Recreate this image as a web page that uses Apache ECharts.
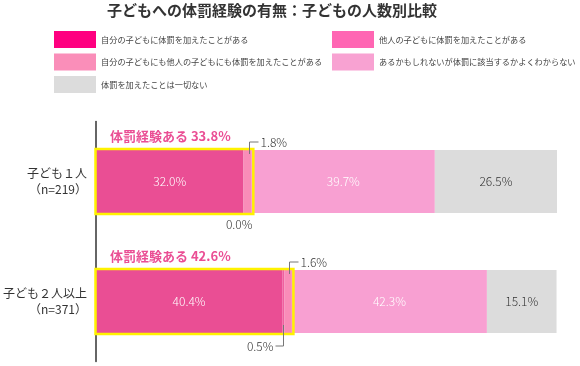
<!DOCTYPE html>
<html><head><meta charset="utf-8">
<script src="https://cdn.jsdelivr.net/npm/echarts@6/dist/echarts.min.js"></script>
<style>html,body{margin:0;padding:0;background:#fff}#c{width:580px;height:366px}</style>
</head><body><div id="c"></div>
<script>
const titleText = '子どもへの体罰経験の有無：子どもの人数別比較';
const categories = ['子ども１人', '子ども２人以上'];
const sampleSizes = ['（n=219）', '（n=371）'];
const seriesNames = [
  '自分の子どもに体罰を加えたことがある',
  '他人の子どもに体罰を加えたことがある',
  '自分の子どもにも他人の子どもにも体罰を加えたことがある',
  'あるかもしれないが体罰に該当するかよくわからない',
  '体罰を加えたことは一切ない'
];
const ownChild = [32.0, 40.4];
const otherChild = [0.0, 0.5];
const bothChildren = [1.8, 1.6];
const unsure = [39.7, 42.3];
const never = [26.5, 15.1];
const experienceTotal = [33.8, 42.6];
const experienceLabel = '体罰経験ある';

const barColors = ['#EA4E94', '#F0609F', '#F98CB8', '#F8A0D2', '#DCDCDC'];
const legendColors = ['#FF0080', '#FF66B3', '#FA8EB9', '#F8A2D2', '#DCDCDC'];
const FONT = '"Noto Sans CJK JP", "Noto Sans", sans-serif';

const values = [ownChild, otherChild, bothChildren, unsure, never];

// annotation placements for the thin segments (series index, category index, placement)
const annPlacement = [
  [1, 0, 'below'], [2, 0, 'up'],
  [1, 1, 'downleft'], [2, 1, 'up']
];
const annData = annPlacement.map(([s, c, p]) => {
  let start = 0;
  for (let k = 0; k < s; k++) start += values[k][c];
  return [c, start, values[s][c], p];
});
const boxData = categories.map((c, i) => [i, ownChild[i] + otherChild[i] + bothChildren[i], experienceTotal[i]]);

const BW = 63;
const barSeries = seriesNames.map((n, si) => ({
  name: n, type: 'bar', stack: 'all', barWidth: BW,
  data: values[si],
  itemStyle: { color: barColors[si] },
  label: {
    show: si === 0 || si >= 3,
    position: 'inside',
    color: si === 4 ? '#333' : '#fff',
    fontSize: 12, fontFamily: FONT, fontWeight: 300,
    formatter: p => p.value.toFixed(1) + '%'
  },
  emphasis: { disabled: true }
}));

const legendCommon = { orient: 'vertical', itemWidth: 42, itemHeight: 17, itemGap: 5.5, padding: 0,
  selectedMode: false, textStyle: { fontSize: 8.2, color: '#444', fontFamily: FONT } };

const chart = echarts.init(document.getElementById('c'));
chart.setOption({
  animation: false,
  title: { text: titleText, left: 107, top: 3, padding: 0,
    textStyle: { fontSize: 15, fontWeight: 'bold', color: '#333', fontFamily: FONT } },
  legend: [
    Object.assign({ left: 54, top: 31,
      data: [0, 2, 4].map(i => ({ name: seriesNames[i], icon: 'rect', itemStyle: { color: legendColors[i] } })) }, legendCommon),
    Object.assign({ left: 332, top: 31,
      data: [1, 3].map(i => ({ name: seriesNames[i], icon: 'rect', itemStyle: { color: legendColors[i] } })) }, legendCommon)
  ],
  grid: { left: 96, right: 23, top: 121.5, height: 240, containLabel: false, outerBoundsMode: 'none' },
  xAxis: { type: 'value', min: 0, max: 100, show: false },
  yAxis: {
    type: 'category', inverse: true, data: categories,
    axisLine: { show: true, lineStyle: { color: '#333', width: 1.5 } },
    axisTick: { show: false },
    axisLabel: {
      margin: 9, align: 'right',
      formatter: (v, i) => '{a|' + v + '}\n{b|' + sampleSizes[i] + '}',
      rich: {
        a: { fontSize: 12, color: '#333', fontFamily: FONT, lineHeight: 16, align: 'right' },
        b: { fontSize: 12, color: '#333', fontFamily: FONT, lineHeight: 16, align: 'right' }
      }
    }
  },
  series: barSeries.concat([
    {
      type: 'custom', name: 'box', coordinateSystem: 'cartesian2d', z: 10,
      encode: { x: 1, y: 0 }, silent: true,
      data: boxData,
      renderItem: (params, api) => {
        const cat = api.value(0);
        const s = api.coord([0, cat]);
        const e = api.coord([api.value(1), cat]);
        const h = BW;
        return { type: 'group', children: [
          { type: 'rect', shape: { x: s[0] - 0.5, y: s[1] - h / 2 - 1, width: e[0] - s[0] + 2, height: h + 2 },
            style: { fill: null, stroke: '#FFF200', lineWidth: 2.5 } },
          { type: 'text', x: s[0] + 14, y: s[1] - h / 2 - 14,
            style: { text: experienceLabel + ' ' + api.value(2).toFixed(1) + '%', fill: '#EA4E94',
              font: 'bold 13px ' + FONT, textAlign: 'left', textVerticalAlign: 'middle' } }
        ] };
      }
    },
    {
      type: 'custom', name: 'ann', coordinateSystem: 'cartesian2d', z: 11,
      encode: { x: 1, y: 0 }, silent: true,
      data: annData,
      renderItem: (params, api) => {
        const cat = api.value(0);
        const st = api.value(1), val = api.value(2);
        const pl = annData[params.dataIndex][3];
        const c = api.coord([st + val / 2, cat]);
        const x = Math.round(c[0]) + 0.5;
        const yTop = c[1] - BW / 2, yBot = c[1] + BW / 2;
        const txt = val.toFixed(1) + '%';
        const font = '300 12px ' + FONT;
        const lineStyle = { stroke: '#777', lineWidth: 1, fill: null };
        if (pl === 'up') {
          return { type: 'group', children: [
            { type: 'polyline', shape: { points: [[x + 1, yTop + 4], [x + 1, yTop - 8], [x + 10, yTop - 8]] }, style: lineStyle },
            { type: 'text', x: x + 12, y: yTop - 8, style: { text: txt, font, fill: '#333', textAlign: 'left', textVerticalAlign: 'middle' } }
          ] };
        } else if (pl === 'below') {
          return { type: 'text', x: x + 8, y: yBot + 11, style: { text: txt, font, fill: '#333', textAlign: 'right', textVerticalAlign: 'middle' } };
        } else {
          return { type: 'group', children: [
            { type: 'polyline', shape: { points: [[x, yBot - 8], [x, yBot + 13], [x - 8, yBot + 13]] }, style: lineStyle },
            { type: 'text', x: x - 10, y: yBot + 13, style: { text: txt, font, fill: '#333', textAlign: 'right', textVerticalAlign: 'middle' } }
          ] };
        }
      }
    }
  ])
});
</script></body></html>
